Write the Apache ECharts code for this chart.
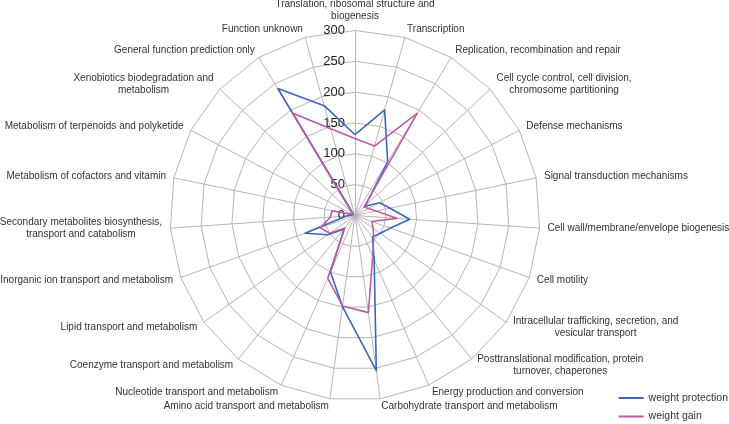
<!DOCTYPE html>
<html><head><meta charset="utf-8">
<script src="https://cdn.jsdelivr.net/npm/echarts@6/dist/echarts.min.js"></script>
<style>html,body{margin:0;padding:0;background:#fff}#c{width:729px;height:424px}</style>
</head><body><div id="c"></div>
<script>
// categories in clockwise order starting from the top
const categories = [
  "Translation, ribosomal structure and\nbiogenesis",
  "Transcription",
  "Replication, recombination and repair",
  "Cell cycle control, cell division,\nchromosome partitioning",
  "Defense mechanisms",
  "Signal transduction mechanisms",
  "Cell wall/membrane/envelope biogenesis",
  "Cell motility",
  "Intracellular trafficking, secretion, and\nvesicular transport",
  "Posttranslational modification, protein\nturnover, chaperones",
  "Energy production and conversion",
  "Carbohydrate transport and metabolism",
  "Amino acid transport and metabolism",
  "Nucleotide transport and metabolism",
  "Coenzyme transport and metabolism",
  "Lipid transport and metabolism",
  "Inorganic ion transport and metabolism",
  "Secondary metabolites biosynthesis,\ntransport and catabolism",
  "Metabolism of cofactors and vitamin",
  "Metabolism of terpenoids and polyketide",
  "Xenobiotics biodegradation and\nmetabolism",
  "General function prediction only",
  "Function unknown"
];
const weightProtection = [131,178,102,22,45,58,89,61,50,45,78,254,149,100,28,54,86,14,5,4,6,241,185];
const weightGain       = [125,117,194,20,25,35,68,29,36,48,72,159,148,111,26,50,60,40,38,3,5,194,146];
const seriesNames = ["weight protection","weight gain"];
const tickValues = [0,50,100,150,200,250,300];
const axisMax = 300;

// ECharts lays radar indicators counter-clockwise; reorder so they appear clockwise
function ccw(arr){ return [arr[0]].concat(arr.slice(1).reverse()); }

const center = [355, 215.5];
const radius = 185;
const gridColor = '#b6b6b6';
const nameFont = 'Liberation Sans, Arial, sans-serif';
const nameSize = 10;

// centred multi-line names: measure the longest line so each block centres its lines
const cvs = document.createElement('canvas').getContext('2d');
cvs.font = nameSize + 'px "Liberation Sans"';
const rich = {};
const nameIdx = {};
categories.forEach((n, i) => {
  nameIdx[n] = i;
  const lines = n.split('\n');
  if (lines.length > 1) {
    const w = Math.ceil(Math.max(...lines.map(l => cvs.measureText(l).width)));
    rich['c' + i] = {width: w, align: 'center', fontSize: nameSize, fontFamily: nameFont, color: '#333', lineHeight: 12};
  }
});

const chart = echarts.init(document.getElementById('c'));
chart.setOption({
  backgroundColor:'#fff',
  animation:false,
  legend:{
    data: seriesNames, orient:'vertical', right: 1, bottom: 2, padding: 0,
    itemWidth: 25, itemHeight: 2, itemGap: 7.5, icon:'rect',
    textStyle:{fontFamily: nameFont, fontSize:10.5, color:'#333'}
  },
  radar:{
    center: center, radius: radius, startAngle: 90, shape:'polygon', splitNumber: 6,
    indicator: ccw(categories).map(n => ({name:n, max:axisMax, min:0})),
    axisName:{
      color:'#333', fontFamily: nameFont, fontSize: nameSize, lineHeight: 12, rich: rich,
      formatter: function(value){
        const i = nameIdx[value];
        const lines = value.split('\n');
        if (lines.length < 2) return value;
        return lines.map(l => '{c' + i + '|' + l + '}').join('\n');
      }
    },
    nameGap: 8,
    splitLine:{lineStyle:{color:gridColor, width:1}},
    splitArea:{show:false},
    axisLine:{lineStyle:{color:gridColor, width:1}},
    axisTick:{show:false}
  },
  polar:{center: center, radius: radius},
  angleAxis:{show:false, startAngle:90, min:0, max:360},
  radiusAxis:{
    min: tickValues[0], max: tickValues[tickValues.length-1], interval: tickValues[1]-tickValues[0],
    axisLine:{show:false}, axisTick:{show:false}, splitLine:{show:false},
    axisLabel:{show:true, fontFamily: nameFont, fontSize:13, color:'#222', margin:10}
  },
  series:[{
    type:'radar', symbol:'none',
    data:[
      {name:seriesNames[0], value: ccw(weightProtection), lineStyle:{color:'#3b66b9', width:1.6}, itemStyle:{color:'#3b66b9'}},
      {name:seriesNames[1], value: ccw(weightGain), lineStyle:{color:'#bd5ca6', width:1.6}, itemStyle:{color:'#bd5ca6'}}
    ]
  }]
});
</script></body></html>
